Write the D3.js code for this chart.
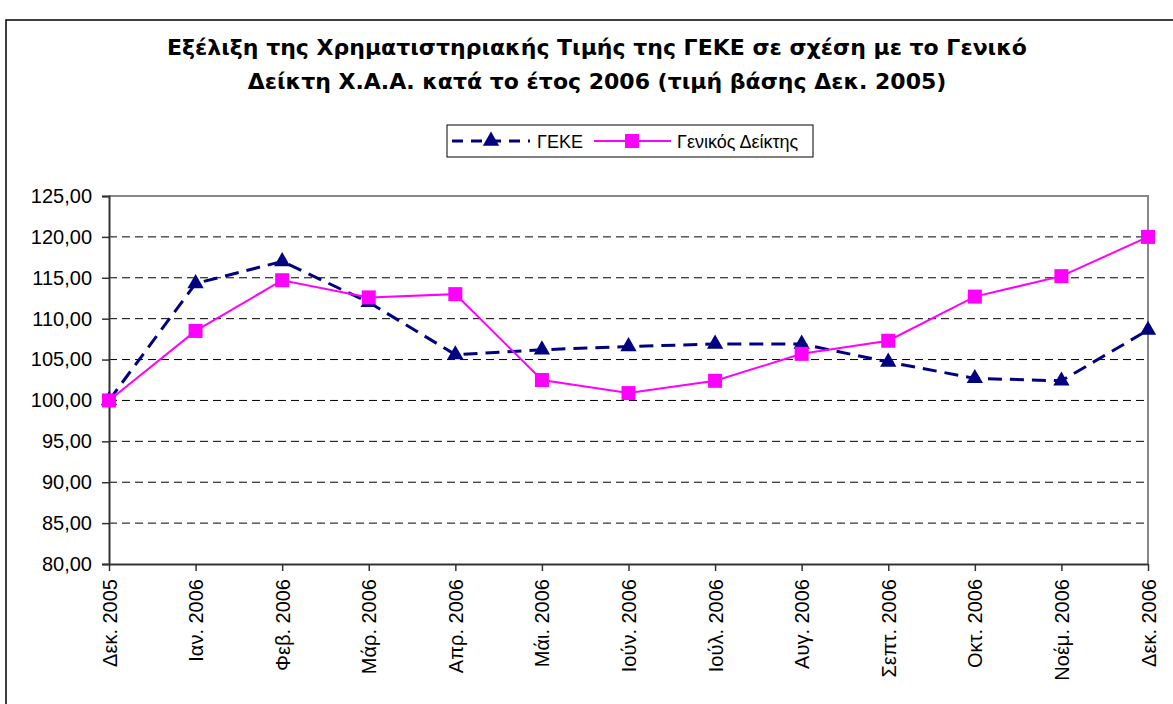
<!DOCTYPE html>
<html><head><meta charset="utf-8">
<script src="https://cdn.jsdelivr.net/npm/d3@7"></script>
<style>body{margin:0;background:#fff}svg{display:block}</style>
</head><body>
<script>
const categories = ["Δεκ. 2005","Ιαν. 2006","Φεβ. 2006","Μάρ. 2006","Απρ. 2006","Μάι. 2006","Ιούν. 2006","Ιούλ. 2006","Αυγ. 2006","Σεπτ. 2006","Οκτ. 2006","Νοέμ. 2006","Δεκ. 2006"];
const gekeValues = [100.0,114.3,117.0,112.0,105.6,106.2,106.6,106.9,106.9,104.7,102.7,102.4,108.6];
const genikosValues = [100.0,108.5,114.7,112.6,113.0,102.5,100.9,102.4,105.7,107.3,112.7,115.2,120.0];
const yTicks = [80,85,90,95,100,105,110,115,120,125];
const seriesNames = ["ΓΕΚΕ","Γενικός Δείκτης"];
const titleLines = ["Εξέλιξη της Χρηματιστηριακής Τιμής της ΓΕΚΕ σε σχέση με το Γενικό","Δείκτη Χ.Α.Α. κατά το έτος 2006 (τιμή βάσης Δεκ. 2005)"];

const W=1173,H=704;
const svg=d3.select("body").append("svg").attr("width",W).attr("height",H);
const font="'Liberation Sans', Arial, sans-serif";
const tfont="'DejaVu Sans', Verdana, sans-serif";
svg.append("rect").attr("x",6).attr("y",20).attr("width",1300).attr("height",900)
  .attr("fill","#fff").attr("stroke","#000").attr("stroke-width",1.5);

const L=109,R=1148,T=196,B=564;
const x=d3.scalePoint().domain(categories).range([L,R]);
const y=d3.scaleLinear().domain([80,125]).range([B,T]);

// title
svg.append("g").selectAll("text").data(titleLines).join("text")
  .attr("x",597).attr("y",(d,i)=>55+i*34).attr("text-anchor","middle")
  .attr("font-family",tfont).attr("font-weight","bold").attr("font-size",22).text(d=>d);

// gridlines
svg.append("g").selectAll("line").data(yTicks.filter(v=>v>80&&v<125)).join("line")
  .attr("x1",L).attr("x2",R).attr("y1",d=>y(d)).attr("y2",d=>y(d))
  .attr("stroke","#000").attr("stroke-width",1).attr("stroke-dasharray","8,5");
// plot border top/right
svg.append("path").attr("d",`M${L},${y(125)}H${R}V${B}`).attr("fill","none").attr("stroke","#888").attr("stroke-width",2);

// y axis
const yAxis=d3.axisLeft(y).tickValues(yTicks).tickSize(7).tickPadding(10)
  .tickFormat(d=>d3.format(".2f")(d).replace(".",","));
const gy=svg.append("g").attr("transform",`translate(${L},0)`).call(yAxis);
gy.select(".domain").attr("stroke","#333").attr("stroke-width",2);
gy.selectAll(".tick line").attr("stroke","#333").attr("stroke-width",1.5);
gy.selectAll("text").attr("font-family",font).attr("font-size",20).attr("fill","#000");

// x axis
const xAxis=d3.axisBottom(x).tickSize(7).tickSizeOuter(0);
const gx=svg.append("g").attr("transform",`translate(0,${B})`).call(xAxis);
gx.select(".domain").attr("stroke","#333").attr("stroke-width",2);
gx.selectAll(".tick line").attr("stroke","#333").attr("stroke-width",1.5);
gx.selectAll("text").attr("font-family",font).attr("font-size",20).attr("fill","#000")
  .attr("transform","rotate(-90)").attr("text-anchor","end").attr("dx","-15").attr("dy","0.35em").attr("y",0).attr("x",0);

// lines
const line=d3.line().x((d,i)=>x(categories[i])).y(d=>y(d));
svg.append("path").datum(gekeValues).attr("d",line).attr("fill","none")
  .attr("stroke","#000080").attr("stroke-width",3).attr("stroke-dasharray","14,8");
svg.append("path").datum(genikosValues).attr("d",line).attr("fill","none")
  .attr("stroke","#FF00FF").attr("stroke-width",2);

const tri=d3.symbol().type(d3.symbolTriangle).size(115);
svg.append("g").selectAll("path").data(gekeValues).join("path")
  .attr("d",tri).attr("transform",(d,i)=>`translate(${x(categories[i])},${y(d)})`).attr("fill","#000080");
svg.append("g").selectAll("rect").data(genikosValues).join("rect")
  .attr("x",(d,i)=>x(categories[i])-7).attr("y",d=>y(d)-7).attr("width",14).attr("height",14).attr("fill","#FF00FF");

// legend
const lg=svg.append("g");
lg.append("rect").attr("x",447).attr("y",125).attr("width",366).attr("height",32).attr("fill","#fff").attr("stroke","#000").attr("stroke-width",1);
lg.append("line").attr("x1",452).attr("x2",530).attr("y1",141).attr("y2",141).attr("stroke","#000080").attr("stroke-width",3).attr("stroke-dasharray","11,8");
lg.append("path").attr("d",tri).attr("transform","translate(491,141)").attr("fill","#000080");
lg.append("text").attr("x",537).attr("y",148).attr("font-family",font).attr("font-size",18).text(seriesNames[0]);
lg.append("line").attr("x1",594).attr("x2",671).attr("y1",141).attr("y2",141).attr("stroke","#FF00FF").attr("stroke-width",2);
lg.append("rect").attr("x",625).attr("y",134).attr("width",14).attr("height",14).attr("fill","#FF00FF");
lg.append("text").attr("x",677).attr("y",148).attr("font-family",font).attr("font-size",18).text(seriesNames[1]);
</script>
</body></html>
